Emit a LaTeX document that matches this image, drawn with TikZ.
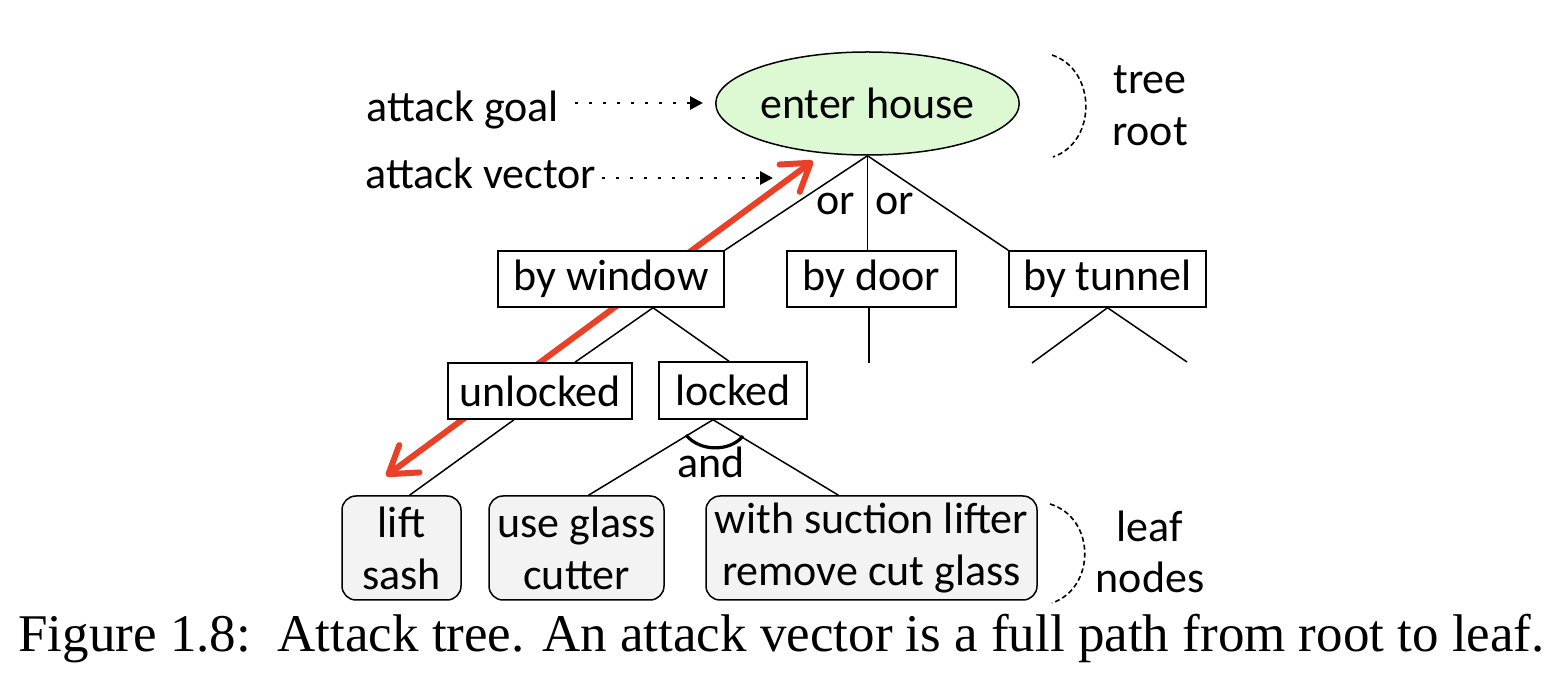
\documentclass[tikz,border=0pt]{standalone}
\usepackage{fontspec}
\setmainfont{Carlito}
\newfontfamily\capfont{Liberation Serif}
\usetikzlibrary{arrows.meta,shapes.geometric,calc}
\definecolor{rootgreen}{HTML}{DCF9D4}
\definecolor{leafgray}{HTML}{F3F3F3}
\definecolor{vecred}{HTML}{E84128}
\begin{document}
\begin{tikzpicture}[x=0.5pt,y=-0.5pt,
  every node/.style={font=\fontsize{22}{26}\selectfont, inner sep=0pt},
  rootnode/.style={ellipse, draw, line width=0.75pt, fill=rootgreen, minimum width=149.5pt, minimum height=51.5pt},
  boxnode/.style={rectangle, draw, fill=white, line width=0.75pt, minimum height=28pt},
  leafnode/.style={rectangle, draw, rounded corners=7pt, fill=leafgray, line width=0.75pt, minimum height=52pt, align=center},
  edge/.style={line width=0.75pt},
  dotarrow/.style={line width=1.4pt, dash pattern=on 1.4pt off 5.6pt, -{Triangle[length=6.5pt,width=6.5pt]}},
  bracket/.style={line width=0.8pt, dash pattern=on 2.5pt off 1.5pt},
  vector/.style={line width=3pt, vecred, {Straight Barb[length=13pt,width=17pt,round]}-{Straight Barb[length=13pt,width=17pt,round]}},
  andarc/.style={line width=1.6pt},
]
\useasboundingbox (0,0) rectangle (1564,694);

% attack vector (drawn first, boxes cover it)
\coordinate (vtop) at (813,161);
\coordinate (vbot) at (386,476);
\draw[vector] (vbot) -- (vtop);

% nodes
\node[rootnode] (root) at (867.5,103.5) {enter house};
\node[boxnode, minimum width=113pt] (window) at (611,279) {by window};
\node[boxnode, minimum width=84.5pt] (door) at (871.5,279) {by door};
\node[boxnode, minimum width=98.5pt] (tunnel) at (1107.5,279) {by tunnel};
\node[boxnode, minimum width=92pt] (unlocked) at (540,391) {unlocked};
\node[boxnode, minimum width=74pt, minimum height=28.5pt] (locked) at (733,390.5) {locked};
\node[leafnode, minimum width=59.5pt] (lift) at (401.5,548) {lift\\sash};
\node[leafnode, minimum width=87.5pt] (glass) at (576.5,548) {use glass\\cutter};
\node[leafnode, minimum width=165.5pt] (suction) at (871.5,548) {with suction lifter\\remove cut glass};

% labels
\node[anchor=base west] (goal) at (366,122) {attack goal};
\node[anchor=base west] (vec) at (365,189) {attack vector};
\node[anchor=base] (or1) at (836,215) {or};
\node[anchor=base] (or2) at (895,215) {or};
\node[anchor=base] (and) at (711,478) {and};
\node[anchor=base] (tree) at (1150,94) {tree};
\node[anchor=base] (rootlbl) at (1150,146) {root};
\node[anchor=base] (leaf) at (1150,542) {leaf};
\node[anchor=base] (nodes) at (1150,593) {nodes};
\node[anchor=base west, font=\capfont\fontsize{26.5}{30}\selectfont] (cap) at (18,652)
  {Figure 1.8:\ \ Attack tree. An attack vector is a full path from root to leaf.};

% coordinates
\coordinate (ge) at (703,103);
\coordinate (ve) at (773,178);
\coordinate (dl) at (869,363);
\coordinate (tl) at (1032,363);
\coordinate (tr) at (1187,362);
\coordinate (rb1) at (1052,55);
\coordinate (rb2) at (1053,157);
\coordinate (lb1) at (1050,504);
\coordinate (lb2) at (1052,603);
\coordinate (arcA) at (686,435);
\coordinate (arcB) at (743,436);

% tree edges
\draw[edge] (root.south) -- (window.north east);
\draw[edge] (root.south) -- (root.south |- door.north);
\draw[edge] (root.south) -- (tunnel.north west);
\draw[edge] (door.south -| dl) -- (dl);
\draw[edge] (tunnel.south) -- (tl);
\draw[edge] (tunnel.south) -- (tr);
\draw[edge] ([xshift=21pt]window.south) -- ([xshift=17.5pt]unlocked.north);
\draw[edge] ([xshift=21pt]window.south) -- ([xshift=-2pt]locked.north);
\draw[edge] ([xshift=-13pt]unlocked.south) -- ([xshift=4pt]lift.north);
\draw[edge] ([xshift=-10pt]locked.south) -- ([xshift=6pt]glass.north);
\draw[edge] ([xshift=-10pt]locked.south) -- ([xshift=-16.5pt]suction.north);
\draw[andarc] (arcA) .. controls (700,452) and (730,452) .. (arcB);

% annotations
\draw[dotarrow] ([xshift=8pt]goal.east |- ge) -- (ge);
\draw[dotarrow] ([xshift=3pt]vec.east |- ve) -- (ve);
\draw[bracket] (rb1) .. controls (1097,70) and (1097,142) .. (rb2);
\draw[bracket] (lb1) .. controls (1096,518) and (1096,588) .. (lb2);
\end{tikzpicture}
\end{document}
